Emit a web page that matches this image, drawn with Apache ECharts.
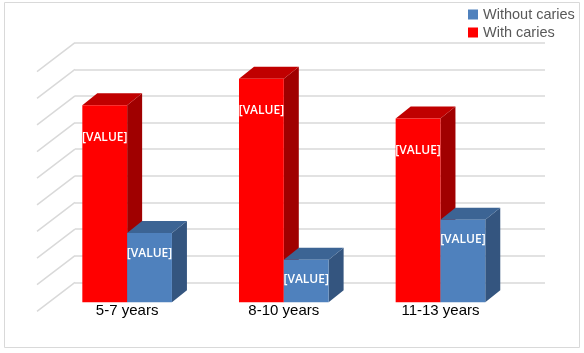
<!DOCTYPE html>
<html>
<head>
<meta charset="utf-8">
<script src="https://cdn.jsdelivr.net/npm/echarts@6/dist/echarts.min.js"></script>
<style>
  html, body { margin: 0; padding: 0; background: #fff; }
  #chart { width: 584px; height: 353px; }
</style>
</head>
<body>
<div id="chart"></div>
<script>
// 数据
var categories = ['5-7 years', '8-10 years', '11-13 years']
var withCaries = [74, 84, 69]
var withoutCaries = [26, 16, 31]
var yTicks = [0, 10, 20, 30, 40, 50, 60, 70, 80, 90]

var depth = [15, -12]        // 柱子的立体厚度
var wallDepth = [-38, 29]    // 左侧墙斜线

function barRender(side, colors, labelOffset) {
  return function (params, api) {
    var idx = api.value(0)
    var top = api.coord([idx, api.value(1)])
    var base = api.coord([idx, 0])
    var band = api.size([1, 0])[0]
    var w = band * 0.286
    var x0 = side === 'left' ? top[0] - w : top[0]
    var x1 = x0 + w
    var dx = depth[0], dy = depth[1]
    return {
      type: 'group',
      children: [
        {
          type: 'polygon',
          shape: { points: [[x1, top[1]], [x1 + dx, top[1] + dy], [x1 + dx, base[1] + dy], [x1, base[1]]] },
          style: { fill: colors[1] }
        },
        {
          type: 'polygon',
          shape: { points: [[x0, top[1]], [x0 + dx, top[1] + dy], [x1 + dx, top[1] + dy], [x1, top[1]]] },
          style: { fill: colors[2] }
        },
        {
          type: 'rect',
          shape: { x: x0, y: top[1], width: w, height: base[1] - top[1] },
          style: { fill: colors[0] }
        },
        {
          type: 'text',
          x: x0 + w / 2,
          y: top[1] + labelOffset,
          style: {
            text: '[VALUE]',
            fill: '#fff',
            font: '600 12px "Open Sans", sans-serif',
            align: 'center',
            verticalAlign: 'middle'
          }
        }
      ]
    }
  }
}

var myChart = echarts.init(document.getElementById('chart'))

var option = {
  animation: false,
  graphic: [{
    type: 'rect',
    shape: { x: 4.5, y: 2.5, width: 575, height: 345 },
    style: { fill: 'none', stroke: '#D9D9D9', lineWidth: 1 },
    z: -10
  }],
  legend: {
    orient: 'vertical',
    left: 463,
    top: 2,
    itemWidth: 10,
    itemHeight: 10,
    itemGap: 3,
    icon: 'rect',
    data: ['Without caries', 'With caries'],
    textStyle: { color: '#595959', fontSize: 14.5, fontFamily: 'Liberation Sans' }
  },
  grid: [
    // 背景墙
    { left: 75, right: 39, top: 42.7, bottom: 70.7 },
    // 柱子前平面
    { left: 48.8, right: 65.2, top: 62.7, bottom: 50.7 }
  ],
  xAxis: [
    { gridIndex: 0, type: 'category', data: categories, show: false },
    {
      gridIndex: 1,
      type: 'category',
      data: categories,
      axisLine: { show: false },
      axisTick: { show: false },
      axisLabel: { color: '#000', fontSize: 15, fontFamily: 'Liberation Sans', margin: 1 }
    }
  ],
  yAxis: [
    {
      gridIndex: 0,
      type: 'value',
      min: 0,
      max: 90,
      interval: 10,
      axisLabel: { show: false },
      axisLine: { show: false },
      axisTick: { show: false },
      splitLine: { lineStyle: { color: '#D9D9D9', width: 1.5 } }
    },
    {
      gridIndex: 1,
      type: 'value',
      min: 0,
      max: 90,
      interval: 10,
      show: false,
      splitLine: { show: false }
    }
  ],
  series: [
    {
      // 左侧墙斜线
      type: 'custom',
      xAxisIndex: 0,
      yAxisIndex: 0,
      silent: true,
      data: yTicks.map(function (v) { return [0, v] }),
      renderItem: function (params, api) {
        var p = api.coord([0, api.value(1)])
        var x = params.coordSys.x
        return {
          type: 'line',
          shape: { x1: x, y1: p[1], x2: x + wallDepth[0], y2: p[1] + wallDepth[1] },
          style: { stroke: '#D9D9D9', lineWidth: 1.5 }
        }
      }
    },
    {
      name: 'With caries',
      type: 'custom',
      xAxisIndex: 1,
      yAxisIndex: 1,
      itemStyle: { color: '#FF0000' },
      data: withCaries.map(function (v, i) { return [i, v] }),
      renderItem: barRender('left', ['#FF0000', '#A00000', '#C00000'], 32)
    },
    {
      name: 'Without caries',
      type: 'custom',
      xAxisIndex: 1,
      yAxisIndex: 1,
      itemStyle: { color: '#4F81BD' },
      data: withoutCaries.map(function (v, i) { return [i, v] }),
      renderItem: barRender('right', ['#4F81BD', '#34557F', '#3C6494'], 20)
    }
  ]
}

myChart.setOption(option)
</script>
</body>
</html>
